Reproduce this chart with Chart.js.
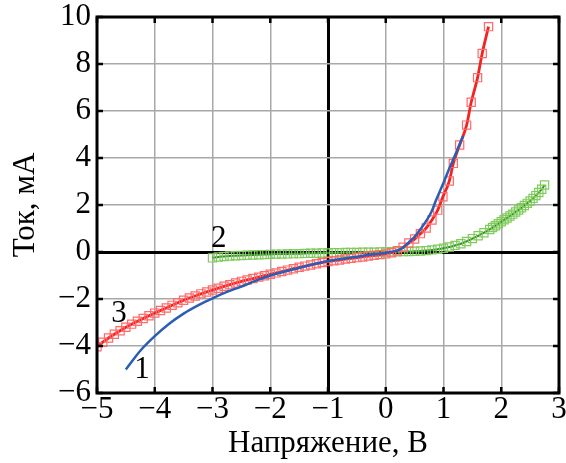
<!DOCTYPE html>
<html>
<head>
<meta charset="utf-8">
<script src="https://cdn.jsdelivr.net/npm/chart.js@4"></script>
<style>
  body { margin: 0; background: #fff; }
  canvas { display: block; }
</style>
</head>
<body>
<canvas id="ivChart" width="566" height="463"></canvas>
<script>
// curve 3 (red, squares)
const redV = [-5.0, -4.9, -4.8, -4.7, -4.6, -4.5, -4.4, -4.3, -4.2, -4.1, -4.0, -3.9, -3.8, -3.7, -3.6,
  -3.5, -3.4, -3.3, -3.2, -3.1, -3.0, -2.9, -2.8, -2.7, -2.6, -2.5, -2.4, -2.3, -2.2, -2.1, -2.0,
  -1.9, -1.8, -1.7, -1.6, -1.5, -1.4, -1.3, -1.2, -1.1, -1.0, -0.9, -0.8, -0.7, -0.6, -0.5, -0.4,
  -0.3, -0.2, -0.1, 0.0, 0.1, 0.2, 0.3, 0.4, 0.5, 0.6, 0.7, 0.8, 0.9, 0.99, 1.10, 1.17, 1.28,
  1.40, 1.48, 1.59, 1.67, 1.78];
const redI = [-4.03, -3.84, -3.66, -3.50, -3.35, -3.20, -3.07, -2.95, -2.83, -2.71, -2.60, -2.49,
  -2.38, -2.27, -2.16, -2.05, -1.96, -1.87, -1.78, -1.70, -1.62, -1.54, -1.46, -1.39, -1.32, -1.25,
  -1.19, -1.13, -1.07, -1.01, -0.95, -0.89, -0.83, -0.77, -0.71, -0.65, -0.60, -0.55, -0.50, -0.45,
  -0.41, -0.37, -0.34, -0.30, -0.27, -0.24, -0.21, -0.17, -0.14, -0.11, -0.08, -0.03, 0.05, 0.20,
  0.38, 0.55, 0.78, 1.02, 1.36, 1.78, 2.35, 3.02, 3.77, 4.55, 5.40, 6.37, 7.42, 8.45, 9.59];

// curve 1 (blue line)
const blueV = [-4.5, -4.25, -4.0, -3.75, -3.5, -3.25, -3.0, -2.75, -2.5, -2.25, -2.0, -1.75, -1.5,
  -1.25, -1.0, -0.75, -0.5, -0.25, 0.0, 0.27, 0.44, 0.5, 0.61, 0.79, 0.87, 1.0, 1.1, 1.2, 1.34];
const blueI = [-5.0, -4.2, -3.58, -3.05, -2.62, -2.27, -1.97, -1.70, -1.47, -1.22, -1.0, -0.83,
  -0.68, -0.52, -0.38, -0.29, -0.20, -0.11, -0.04, 0.14, 0.51, 0.65, 1.0, 1.7, 2.2, 2.95, 3.55,
  4.12, 4.94];

// curve 2 (green, squares)
const greenV = [-3.0, -2.9, -2.8, -2.7, -2.6, -2.5, -2.4, -2.3, -2.2, -2.1, -2.0, -1.9, -1.8, -1.7,
  -1.6, -1.5, -1.4, -1.3, -1.2, -1.1, -1.0, -0.9, -0.8, -0.7, -0.6, -0.5, -0.4, -0.3, -0.2, -0.1,
  0.0, 0.1, 0.2, 0.3, 0.4, 0.5, 0.6, 0.7, 0.8, 0.9, 1.0, 1.1, 1.2, 1.3, 1.4, 1.5, 1.6, 1.7, 1.8,
  1.85, 1.9, 1.95, 2.0, 2.05, 2.1, 2.15, 2.2, 2.25, 2.3, 2.35, 2.4, 2.45, 2.5, 2.55, 2.6, 2.65,
  2.7, 2.75];
const greenI = [-0.25, -0.21, -0.19, -0.17, -0.16, -0.15, -0.14, -0.13, -0.12, -0.11, -0.10, -0.09,
  -0.09, -0.08, -0.07, -0.07, -0.06, -0.05, -0.05, -0.04, -0.04, -0.03, -0.03, -0.02, -0.02, -0.02,
  -0.01, -0.01, -0.01, 0.0, 0.0, 0.01, 0.01, 0.02, 0.02, 0.03, 0.04, 0.06, 0.09, 0.12, 0.16, 0.21,
  0.28, 0.35, 0.45, 0.57, 0.69, 0.82, 0.96, 1.04, 1.12, 1.20, 1.29, 1.37, 1.45, 1.53, 1.61, 1.70,
  1.79, 1.88, 1.98, 2.07, 2.17, 2.28, 2.40, 2.53, 2.67, 2.85];

// curve labels: [text, V, I]
const curveLabels = [['1', -4.22, -5.02], ['2', -2.89, 0.55], ['3', -4.62, -2.64]];

const serif = "'Liberation Serif', 'Times New Roman', serif";
const pts = (xs, ys) => xs.map((v, i) => ({ x: v, y: ys[i] }));
const minus = v => String(v).replace('-', '\u2212');

const frame = {
  id: 'frame',
  afterDraw(chart) {
    const { ctx, chartArea: a, scales: { x, y } } = chart;
    ctx.save();
    ctx.strokeStyle = '#000';
    ctx.lineWidth = 3;
    ctx.strokeRect(a.left, a.top, a.right - a.left, a.bottom - a.top);
    ctx.lineWidth = 2.5;
    ctx.beginPath();
    x.ticks.forEach(t => {
      const px = x.getPixelForValue(t.value);
      ctx.moveTo(px, a.top); ctx.lineTo(px, a.top + 6);
      ctx.moveTo(px, a.bottom); ctx.lineTo(px, a.bottom - 6);
    });
    y.ticks.forEach(t => {
      const py = y.getPixelForValue(t.value);
      ctx.moveTo(a.left, py); ctx.lineTo(a.left + 6, py);
      ctx.moveTo(a.right, py); ctx.lineTo(a.right - 6, py);
    });
    ctx.stroke();
    ctx.fillStyle = '#000';
    ctx.font = '31px ' + serif;
    ctx.textAlign = 'center';
    ctx.textBaseline = 'middle';
    curveLabels.forEach(([s, v, i]) => {
      ctx.fillText(s, x.getPixelForValue(v), y.getPixelForValue(i));
    });
    ctx.restore();
  }
};

new Chart(document.getElementById('ivChart'), {
  type: 'line',
  data: {
    datasets: [
      {
        data: pts(blueV, blueI),
        borderColor: '#2a5db5',
        borderWidth: 2.5,
        pointRadius: 0,
        cubicInterpolationMode: 'monotone',
        order: 1
      },
      {
        data: pts(redV, redI),
        borderColor: '#f42222',
        borderWidth: 2.8,
        pointStyle: 'rect',
        pointRadius: 5.8,
        pointBorderColor: '#ff6a6a',
        pointBackgroundColor: 'rgba(0,0,0,0)',
        pointBorderWidth: 1.2,
        cubicInterpolationMode: 'monotone',
        order: 2
      },
      {
        data: pts(greenV, greenI),
        borderColor: '#2f8a2f',
        borderWidth: 2,
        pointStyle: 'rect',
        pointRadius: 5.8,
        pointBorderColor: '#80cc5a',
        pointBackgroundColor: 'rgba(0,0,0,0)',
        pointBorderWidth: 1.2,
        cubicInterpolationMode: 'monotone',
        order: 3
      }
    ]
  },
  options: {
    responsive: false,
    animation: false,
    layout: { padding: { top: 17, right: 4, left: 0, bottom: 0 } },
    plugins: { legend: { display: false }, tooltip: { enabled: false } },
    scales: {
      x: {
        type: 'linear',
        min: -5,
        max: 3,
        afterFit: s => { s.height = 70; s.paddingLeft = 0; s.paddingRight = 0; },
        border: { display: false },
        grid: {
          drawTicks: false,
          color: c => (c.tick.value === -1 ? '#000' : '#a8a8a8'),
          lineWidth: c => (c.tick.value === -1 ? 3 : 1.5)
        },
        ticks: {
          stepSize: 1,
          autoSkip: false,
          maxRotation: 0,
          padding: -2,
          color: '#000',
          font: { family: serif, size: 31 },
          callback: v => minus(v)
        },
        title: {
          display: true,
          text: 'Напряжение, В',
          color: '#000',
          font: { family: serif, size: 31 },
          padding: { top: 0, bottom: 1 }
        }
      },
      y: {
        min: -6,
        max: 10,
        afterFit: s => { s.width = 97; s.paddingTop = 0; s.paddingBottom = 0; },
        border: { display: false },
        grid: {
          drawTicks: false,
          color: c => (c.tick.value === 0 ? '#000' : '#a8a8a8'),
          lineWidth: c => (c.tick.value === 0 ? 3 : 1.5)
        },
        ticks: {
          stepSize: 2,
          autoSkip: false,
          padding: 6,
          color: '#000',
          font: { family: serif, size: 31 },
          callback: v => minus(v)
        },
        title: {
          display: true,
          text: 'Ток, мА',
          color: '#000',
          font: { family: serif, size: 31 },
          padding: { top: 7, bottom: 0 }
        }
      }
    }
  },
  plugins: [frame]
});
</script>
</body>
</html>
